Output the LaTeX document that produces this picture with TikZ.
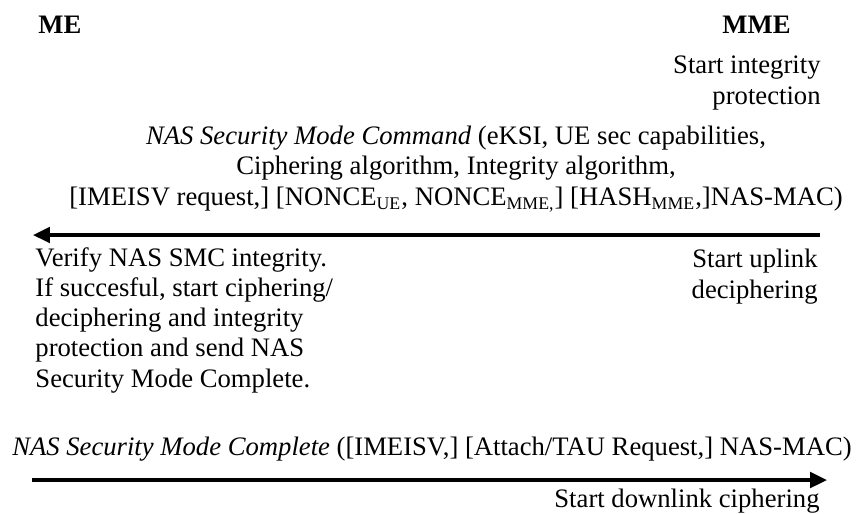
\documentclass[tikz,border=0pt]{standalone}
\usepackage{fontspec}
\setmainfont{Liberation Serif}
\usetikzlibrary{arrows.meta,positioning}
\newcommand{\msgfont}{\fontsize{12}{13.6}\selectfont}
\tikzstyle{entity}=[font=\msgfont\bfseries, inner sep=0pt]
\tikzstyle{texto}=[font=\msgfont, inner sep=0pt, align=left]
\tikzstyle{textr}=[font=\msgfont, inner sep=0pt, align=right]
\tikzstyle{msg}=[font=\msgfont, inner sep=0pt, align=center]
\tikzstyle{line}=[draw, line width=1.5pt, -{Triangle[length=7.6pt,width=7pt]}]

\begin{document}
\begin{tikzpicture}[x=0.45pt,y=-0.45pt]
  \useasboundingbox (0,0) rectangle (859,513);

  % both ends
  \node (ME) [entity, anchor=base west] at (38,33) {ME};
  \node (MME) [entity, anchor=base west] at (722,33) {MME};
  \node (STARTINT) [textr, anchor=base east] at (821,104) {Start integrity\\ protection};

  % security mode command
  \node (SMCMSG) [msg, anchor=base] at (456,205)
    {\textit{NAS Security Mode Command} (eKSI, UE sec capabilities,\\
     Ciphering algorithm, Integrity algorithm,\\
     {[}IMEISV request,] [NONCE\textsubscript{UE}, NONCE\textsubscript{MME,}] [HASH\textsubscript{MME},]NAS-MAC)};
  \coordinate (SMCR) at (820,235);
  \coordinate (SMCL) at (33,235);
  \path [line] (SMCR) -- (SMCL);

  \node (VERIFY) [texto, anchor=base west] at (35,387)
    {Verify NAS SMC integrity.\\ If succesful, start ciphering/\\ deciphering and integrity\\
     protection and send NAS\\ Security Mode Complete.};
  \node (UPLINK) [textr, anchor=base east] at (818,298) {Start uplink\\ deciphering};

  % security mode complete
  \node (SMPMSG) [msg, anchor=base] at (432,455)
    {\textit{NAS Security Mode Complete} ([IMEISV,] [Attach/TAU Request,] NAS-MAC)};
  \coordinate (SMPL) at (32,480);
  \coordinate (SMPR) at (827,480);
  \path [line] (SMPL) -- (SMPR);

  \node (DOWNLINK) [textr, anchor=base east] at (820,507) {Start downlink ciphering};

\end{tikzpicture}
\end{document}
